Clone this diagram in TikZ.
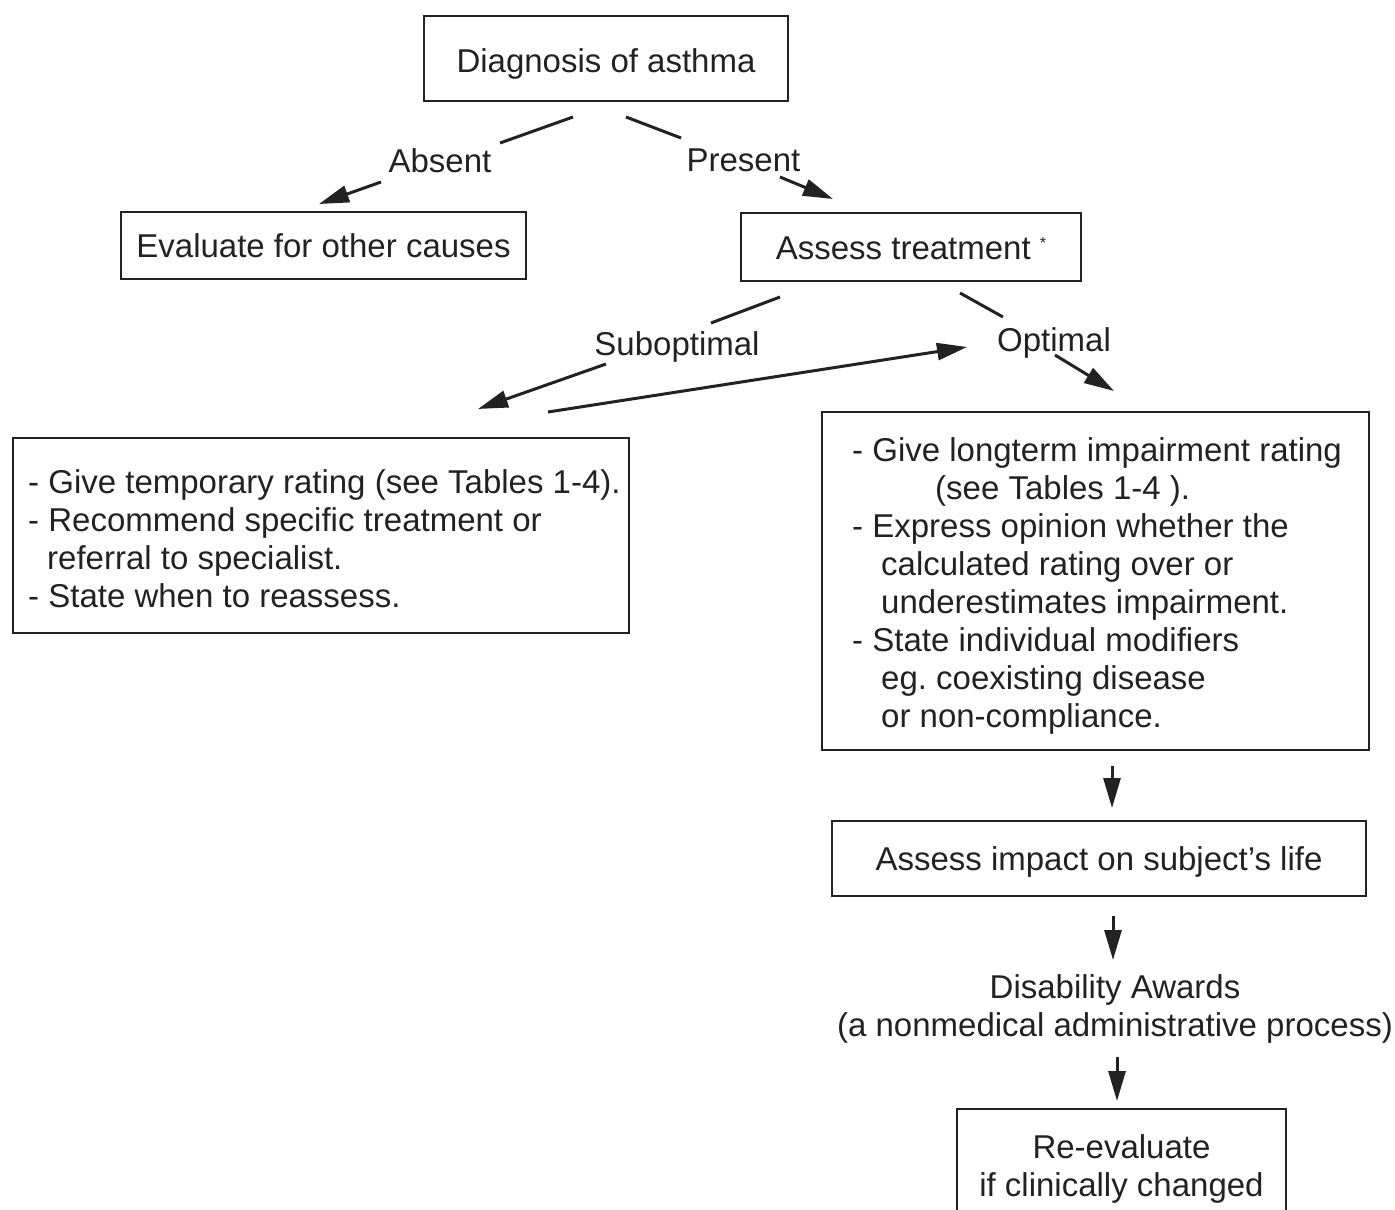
\documentclass[tikz,border=0pt]{standalone}
\usepackage{fontspec}
\setmainfont{Liberation Sans}
\usetikzlibrary{arrows.meta}
\definecolor{ink}{HTML}{222222}
\tikzset{
  every node/.style={font=\fontsize{33}{38}\selectfont, text=ink, inner sep=0pt},
  box/.style={draw=ink, line width=2pt, align=center},
  onebox/.style={box, text height=24pt, text depth=0pt},
  lbl/.style={anchor=base},
  seg/.style={draw=ink, line width=3pt},
  arr/.style={seg, -{Triangle[length=30pt,width=17pt]}},
}
\begin{document}
\begin{tikzpicture}[x=1pt,y=-1pt]
\useasboundingbox (0,0) rectangle (1395,1210);
\clip (0,0) rectangle (1395,1210);
% boxes
\node[onebox, text height=27pt, minimum width=364pt, minimum height=85pt] (diag) at (606,58.5) {Diagnosis of asthma};
\node[onebox, minimum width=405pt, minimum height=67pt] (evalb) at (323.5,245.5) {Evaluate for other causes};
\node[onebox, minimum width=340pt, minimum height=68pt] (assess) at (911,247) {Assess treatment \raisebox{11pt}{\fontsize{16}{16}\selectfont *}};
\node[box, minimum width=616pt, minimum height=195pt] (leftbox) at (321,535.5) {};
\node[box, minimum width=547pt, minimum height=338pt] (rightbox) at (1095.5,581) {};
\node[onebox, minimum width=534pt, minimum height=75pt] (impact) at (1099,858.5) {Assess impact on subject's life};
\node[box, minimum width=329pt, minimum height=120pt] (reeval) at (1121.5,1169) {Re-evaluate\\if clinically changed};
% box texts
\node[anchor=west, align=left] (lefttext) at (28,538.5) {%
- Give temporary rating (see Tables 1-4).\\
- Recommend specific treatment or\\
\hspace*{19pt}referral to specialist.\\
- State when to reassess.};
\node[anchor=west, align=left] (righttext) at (852,586) {%
- Give longterm impairment rating\\
\hspace*{83pt}(see Tables 1-4 ).\\
- Express opinion whether the\\
\hspace*{29pt}calculated rating over or\\
\hspace*{29pt}underestimates impairment.\\
- State individual modifiers\\
\hspace*{29pt}eg.\ coexisting disease\\
\hspace*{29pt}or non-compliance.};
\node[align=center] (dis) at (1115,1009) {Disability Awards\\(a nonmedical administrative process)};
% labels
\node[lbl] (absent) at (440,172) {Absent};
\node[lbl] (present) at (743.5,171) {Present};
\node[lbl] (sub) at (677,355) {Suboptimal};
\node[lbl] (opt) at (1054,351) {Optimal};
% connectors
\draw[seg] ([shift={(-33,15)}]diag.south) -- ([shift={(60,-29)}]absent.base);
\draw[arr] ([shift={(-59,10)}]absent.base) -- ([shift={(-4.5,-7)}]evalb.north);
\draw[seg] ([shift={(20,15)}]diag.south) -- ([shift={(-62.5,-33)}]present.base);
\draw[arr] ([shift={(36.5,6)}]present.base) -- ([shift={(-78,-13)}]assess.north);
\draw[seg] ([shift={(-131,15)}]assess.south) -- ([shift={(34,-32)}]sub.base);
\draw[arr] ([shift={(-71,9)}]sub.base) -- ([shift={(157,-28)}]leftbox.north);
\draw[seg] ([shift={(49,11)}]assess.south) -- ([shift={(-51,-34)}]opt.base);
\draw[arr] ([shift={(1,4)}]opt.base) -- ([shift={(18.5,-20)}]rightbox.north);
\draw[arr] ([shift={(227,-25)}]leftbox.north) -- ([shift={(-87,-4)}]opt.base);
\draw[arr] ([shift={(16.5,15)}]rightbox.south) -- ([shift={(13,-12)}]impact.north);
\draw[arr] ([shift={(14,19)}]impact.south) -- ([shift={(-2,-49)}]dis.center);
\draw[arr] ([shift={(2,48)}]dis.center) -- ([shift={(-4.5,-7)}]reeval.north);
\end{tikzpicture}
\end{document}
